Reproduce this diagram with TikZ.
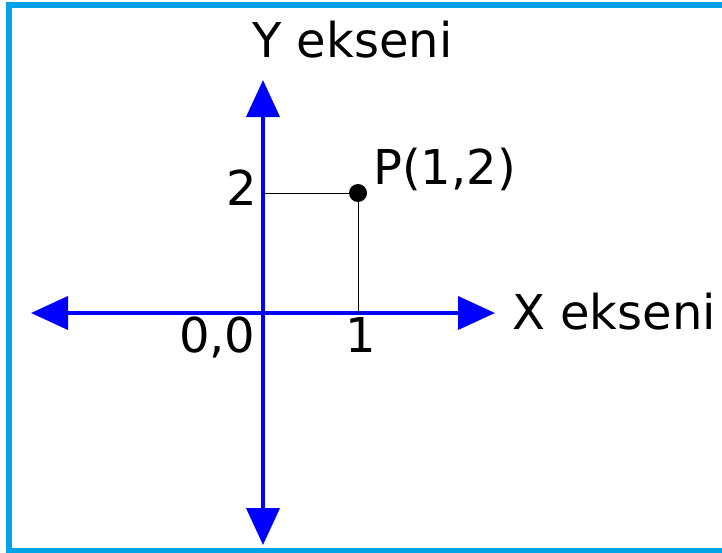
\documentclass[tikz,border=0pt]{standalone}
\usepackage{fontspec}
\setmainfont{DejaVu Sans}
\usetikzlibrary{arrows.meta}
\definecolor{frameblue}{HTML}{00A2E8}
\definecolor{axisblue}{HTML}{0000FF}
\tikzset{
  axis/.style={draw=axisblue, line width=4pt, -{Triangle[length=37pt,width=33pt]}},
  guide/.style={draw=black, line width=1pt},
  lbl/.style={anchor=base west, inner sep=0pt, font=\fontsize{48}{54}\selectfont},
}
\begin{document}
\begin{tikzpicture}[x=1pt,y=-1pt]
\useasboundingbox (0,0) rectangle (722,552);
\draw[frameblue, line width=6pt] (9,5) rectangle (740,551);
\coordinate (O) at (263,313);
\coordinate (ytop) at (263,80);
\coordinate (ybot) at (263,545);
\coordinate (xleft) at (31,313);
\coordinate (xright) at (495,313);
\coordinate (ytick) at (263,193);
\coordinate (xtick) at (358,313);
\draw[axis] (O) -- (ytop);
\draw[axis] (O) -- (ybot);
\draw[axis] (O) -- (xleft);
\draw[axis] (O) -- (xright);
\node[circle, fill=black, inner sep=0pt, minimum size=18pt] (P) at (358,193) {};
\draw[guide] (ytick) -- (P.center) -- (xtick);
\node[lbl] (ylab) at (252,57) {Y ekseni};
\node[lbl] (xlab) at (512,329) {X ekseni};
\node[lbl] (plab) at (373,184) {P(1,2)};
\node[lbl] (olab) at (179,352) {0,0};
\node[lbl] (onelab) at (345,352) {1};
\node[lbl] (twolab) at (226,205) {2};
\end{tikzpicture}
\end{document}
